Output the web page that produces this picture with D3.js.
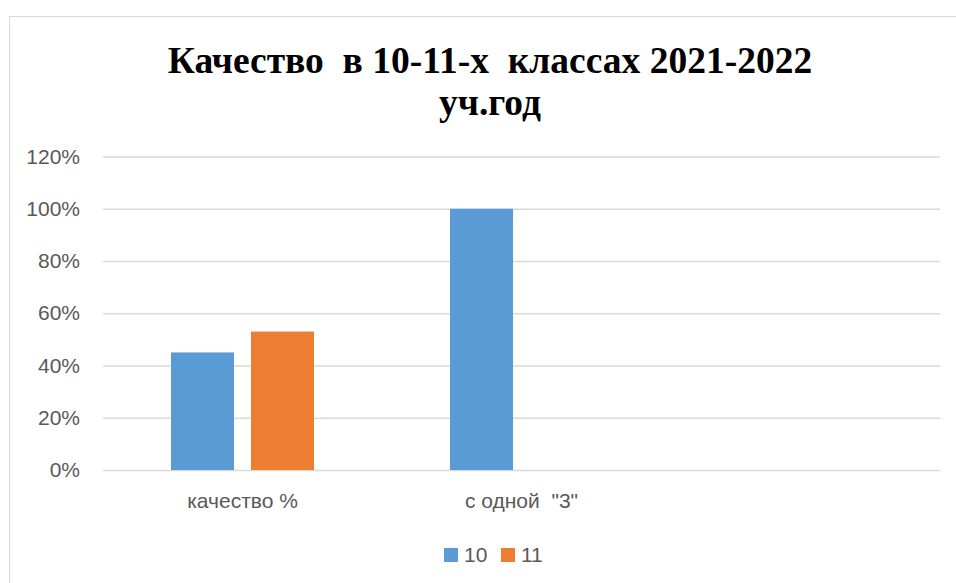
<!DOCTYPE html>
<html>
<head>
<meta charset="utf-8">
<script src="https://cdn.jsdelivr.net/npm/d3@7"></script>
<style>
  body { margin: 0; background: #fff; }
  svg { display: block; }
</style>
</head>
<body>
<div id="chart"></div>
<script>
/***** Data *****/
var categories = ["качество %", "с одной  \"3\"", ""];
var seriesNames = ["10", "11"];
var values10 = [0.45, 1.00, null];
var values11 = [0.53, null, null];
var yTicks = [0, 0.2, 0.4, 0.6, 0.8, 1.0, 1.2];
var titleLines = ["Качество  в 10-11-х  классах 2021-2022", "уч.год"];

var colors = d3.scaleOrdinal().domain(seriesNames).range(["#5B9BD5", "#ED7D31"]);

var width = 956, height = 583;
var plot = {left: 103, right: 940, top: 156.5, bottom: 470};
var labelFont = "'Liberation Sans', Arial, sans-serif";

var svg = d3.select("#chart").append("svg")
  .attr("width", width)
  .attr("height", height);

svg.append("rect")
  .attr("x", 9.5).attr("y", 16.5)
  .attr("width", 1000).attr("height", 1000)
  .attr("fill", "#fff")
  .attr("stroke", "#D9D9D9")
  .attr("stroke-width", 1);

// title
svg.append("g").selectAll("text")
  .data(titleLines)
  .join("text")
  .attr("x", 490)
  .attr("y", function(d, i) { return 73 + i * 42; })
  .attr("text-anchor", "middle")
  .attr("font-family", "'Liberation Serif', 'Times New Roman', serif")
  .attr("font-weight", "bold")
  .attr("font-size", 37.5)
  .attr("fill", "#000")
  .style("white-space", "pre")
  .text(function(d) { return d; });

var y = d3.scaleLinear().domain([0, 1.2]).range([plot.bottom, plot.top]);

var x0 = d3.scaleBand().domain(categories.map(function(d, i) { return i; }))
  .range([plot.left, plot.right]).padding(0);

var x1 = d3.scaleBand().domain(seriesNames)
  .range([0, x0.bandwidth()])
  .paddingInner(0.2125)
  .paddingOuter(0.85);

// gridlines + y labels
var yAxis = d3.axisLeft(y)
  .tickValues(yTicks)
  .tickFormat(d3.format(".0%"))
  .tickSize(-(plot.right - plot.left))
  .tickPadding(23);

var gy = svg.append("g")
  .attr("transform", "translate(" + plot.left + ",0)")
  .call(yAxis);
gy.select(".domain").remove();
gy.selectAll(".tick line").attr("stroke", "#D9D9D9").attr("stroke-width", 1.5);
gy.selectAll(".tick text")
  .attr("font-family", labelFont)
  .attr("font-size", 21)
  .attr("fill", "#595959");

// bars
var rows = categories.map(function(c, i) {
  return {i: i, vals: [{s: "10", v: values10[i]}, {s: "11", v: values11[i]}]};
});

svg.append("g").selectAll("g")
  .data(rows)
  .join("g")
  .attr("transform", function(d) { return "translate(" + x0(d.i) + ",0)"; })
  .selectAll("rect")
  .data(function(d) { return d.vals.filter(function(v) { return v.v != null; }); })
  .join("rect")
  .attr("x", function(d) { return x1(d.s); })
  .attr("y", function(d) { return y(d.v); })
  .attr("width", x1.bandwidth())
  .attr("height", function(d) { return y(0) - y(d.v); })
  .attr("fill", function(d) { return colors(d.s); });

// category labels
var xAxis = d3.axisBottom(x0)
  .tickFormat(function(i) { return categories[i]; })
  .tickSize(0)
  .tickPadding(23);
var gx = svg.append("g")
  .attr("transform", "translate(0," + plot.bottom + ")")
  .call(xAxis);
gx.select(".domain").remove();
gx.selectAll(".tick text")
  .attr("font-family", labelFont)
  .attr("font-size", 21)
  .attr("fill", "#595959")
  .style("white-space", "pre");

// legend
var legend = svg.append("g").attr("transform", "translate(444,548)");
var li = legend.selectAll("g")
  .data(seriesNames)
  .join("g")
  .attr("transform", function(d, i) { return "translate(" + (i * 57) + ",0)"; });
li.append("rect")
  .attr("width", 14).attr("height", 14)
  .attr("fill", function(d) { return colors(d); });
li.append("text")
  .attr("x", 20).attr("y", 14)
  .attr("font-family", labelFont)
  .attr("font-size", 21)
  .attr("fill", "#595959")
  .text(function(d) { return d; });
</script>
</body>
</html>
